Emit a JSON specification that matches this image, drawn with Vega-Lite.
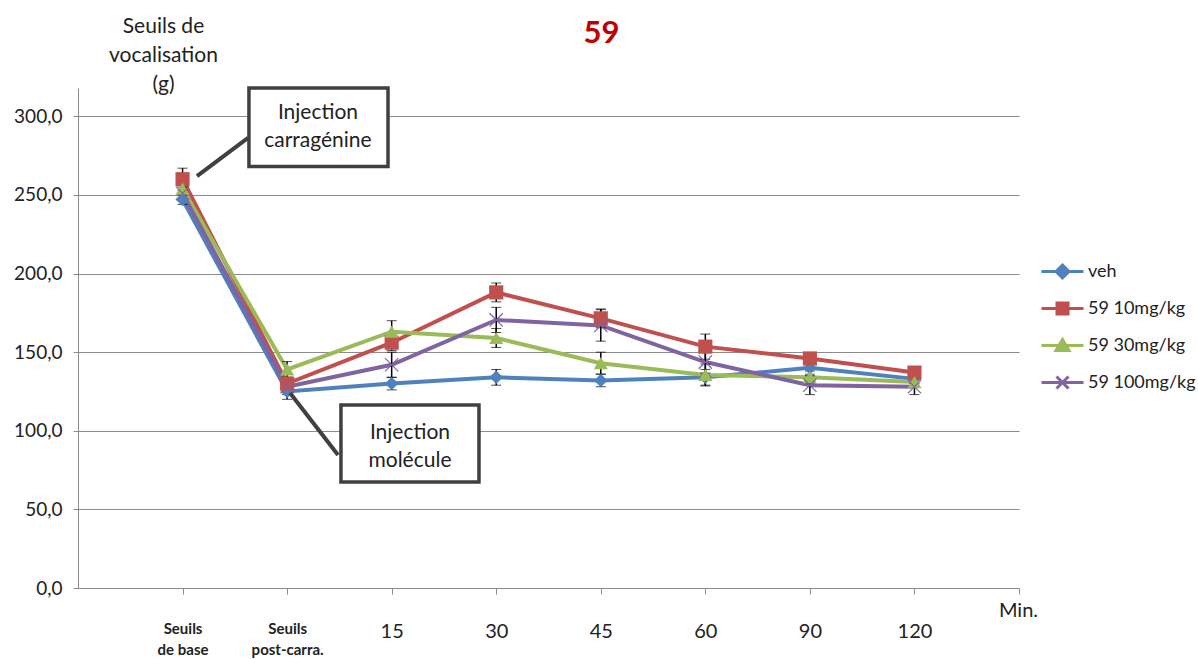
{
  "$schema": "https://vega.github.io/schema/vega-lite/v6.json",
  "width": 941,
  "height": 500,
  "autosize": "none",
  "padding": {"left": 78, "top": 88, "right": 179, "bottom": 71},
  "background": "white",
  "config": {"view": {"stroke": null}, "font": "Lato"},
  "title": {"text": "59", "color": "#C00000", "fontSize": 31, "fontWeight": "bold", "font": "Lato", "anchor": "middle", "dx": 53, "offset": -35},
  "datasets": {
    "d": [
      {"serie": "veh", "temps": "Seuils de base", "pos": 1, "v": 247, "err": 3},
      {"serie": "veh", "temps": "Seuils post-carra.", "pos": 2, "v": 125, "err": 5},
      {"serie": "veh", "temps": "15", "pos": 3, "v": 130, "err": 4},
      {"serie": "veh", "temps": "30", "pos": 4, "v": 134, "err": 5},
      {"serie": "veh", "temps": "45", "pos": 5, "v": 132, "err": 4},
      {"serie": "veh", "temps": "60", "pos": 6, "v": 134, "err": 5},
      {"serie": "veh", "temps": "90", "pos": 7, "v": 140, "err": 4},
      {"serie": "veh", "temps": "120", "pos": 8, "v": 133, "err": 3},
      {"serie": "59 10mg/kg", "temps": "Seuils de base", "pos": 1, "v": 260, "err": 7},
      {"serie": "59 10mg/kg", "temps": "Seuils post-carra.", "pos": 2, "v": 130, "err": 4},
      {"serie": "59 10mg/kg", "temps": "15", "pos": 3, "v": 156, "err": 5},
      {"serie": "59 10mg/kg", "temps": "30", "pos": 4, "v": 188, "err": 6},
      {"serie": "59 10mg/kg", "temps": "45", "pos": 5, "v": 171.5, "err": 6},
      {"serie": "59 10mg/kg", "temps": "60", "pos": 6, "v": 153.5, "err": 8},
      {"serie": "59 10mg/kg", "temps": "90", "pos": 7, "v": 146, "err": 3},
      {"serie": "59 10mg/kg", "temps": "120", "pos": 8, "v": 137, "err": 3},
      {"serie": "59 30mg/kg", "temps": "Seuils de base", "pos": 1, "v": 254, "err": 4},
      {"serie": "59 30mg/kg", "temps": "Seuils post-carra.", "pos": 2, "v": 139, "err": 5},
      {"serie": "59 30mg/kg", "temps": "15", "pos": 3, "v": 163, "err": 7},
      {"serie": "59 30mg/kg", "temps": "30", "pos": 4, "v": 159, "err": 6},
      {"serie": "59 30mg/kg", "temps": "45", "pos": 5, "v": 143, "err": 7},
      {"serie": "59 30mg/kg", "temps": "60", "pos": 6, "v": 135.5, "err": 7},
      {"serie": "59 30mg/kg", "temps": "90", "pos": 7, "v": 134, "err": 4},
      {"serie": "59 30mg/kg", "temps": "120", "pos": 8, "v": 131, "err": 3},
      {"serie": "59 100mg/kg", "temps": "Seuils de base", "pos": 1, "v": 251, "err": 4},
      {"serie": "59 100mg/kg", "temps": "Seuils post-carra.", "pos": 2, "v": 128, "err": 5},
      {"serie": "59 100mg/kg", "temps": "15", "pos": 3, "v": 142, "err": 8},
      {"serie": "59 100mg/kg", "temps": "30", "pos": 4, "v": 170.5, "err": 8},
      {"serie": "59 100mg/kg", "temps": "45", "pos": 5, "v": 167, "err": 10},
      {"serie": "59 100mg/kg", "temps": "60", "pos": 6, "v": 143.7, "err": 7},
      {"serie": "59 100mg/kg", "temps": "90", "pos": 7, "v": 129, "err": 6},
      {"serie": "59 100mg/kg", "temps": "120", "pos": 8, "v": 128, "err": 5}
    ]
  },
  "layer": [
    {
      "data": {"name": "d"},
      "mark": {"type": "line", "strokeWidth": 4},
      "encoding": {
        "x": {
          "field": "pos", "type": "quantitative", "title": "Min.",
          "scale": {"domain": [0, 9], "nice": false, "zero": false},
          "axis": {
            "values": [1, 2, 3, 4, 5, 6, 7, 8, 9],
            "labelExpr": "datum.value == 1 ? ['Seuils', 'de base'] : datum.value == 2 ? ['Seuils', 'post-carra.'] : datum.value == 3 ? '15' : datum.value == 4 ? '30' : datum.value == 5 ? '45' : datum.value == 6 ? '60' : datum.value == 7 ? '90' : datum.value == 8 ? '120' : ''",
            "grid": false,
            "domainColor": "#8c8c8c",
            "tickColor": "#8c8c8c",
            "tickSize": 6,
            "labelPadding": 27,
            "labelOverlap": false,
            "labelBound": false,
            "labelFlush": false,
            "labelColor": "#222222",
            "labelFontSize": {"condition": {"test": "datum.value <= 2", "value": 15}, "value": 20},
            "labelFontWeight": {"condition": {"test": "datum.value <= 2", "value": "bold"}, "value": "normal"},
            "labelLineHeight": 21,
            "titleX": 940,
            "titleY": 22,
            "titleBaseline": "middle",
            "titleAlign": "center",
            "titleFontSize": 20,
            "titleFontWeight": "normal",
            "titleColor": "#222222"
          }
        },
        "y": {
          "field": "v", "type": "quantitative", "title": ["Seuils de", "vocalisation", "(g)"],
          "scale": {"domain": [0, 318], "nice": false},
          "axis": {
            "values": [0, 50, 100, 150, 200, 250, 300],
            "labelExpr": "replace(format(datum.value, '.1f'), '.', ',')",
            "grid": true,
            "gridColor": "#8c8c8c",
            "domainColor": "#8c8c8c",
            "tickColor": "#8c8c8c",
            "tickSize": 5,
            "labelPadding": 11,
            "labelFontSize": 19,
            "labelColor": "#222222",
            "titleAngle": 0,
            "titleX": 85,
            "titleY": -73,
            "titleBaseline": "top",
            "titleAlign": "center",
            "titleFontSize": 21,
            "titleFontWeight": "normal",
            "titleLineHeight": 29,
            "titleColor": "#222222"
          }
        },
        "stroke": {
          "field": "serie", "type": "nominal",
          "scale": {"domain": ["veh", "59 10mg/kg", "59 30mg/kg", "59 100mg/kg"], "range": ["#4F81BD", "#C0504D", "#9BBB59", "#8064A2"]},
          "legend": {
            "orient": "none", "legendX": 973, "legendY": 172, "title": null, "padding": 0,
            "symbolSize": 400, "labelOffset": 14, "rowPadding": 13,
            "labelFontSize": 18, "labelColor": "#222222", "labelFont": "Lato",
            "encode": {
              "symbols": {
                "update": {
                  "shape": {"signal": "datum.value === 'veh' ? 'M-2.1,0H2.1M0,-0.65L0.65,0L0,0.65L-0.65,0Z' : datum.value === '59 10mg/kg' ? 'M-2.1,0H2.1M-0.55,-0.55H0.55V0.55H-0.55Z' : datum.value === '59 30mg/kg' ? 'M-2.1,0H2.1M0,-0.6L0.65,0.5H-0.65Z' : 'M-2.1,0H2.1M-0.6,-0.6L0.6,0.6M-0.6,0.6L0.6,-0.6'"},
                  "fill": {"scale": "stroke", "field": "value"},
                  "stroke": {"scale": "stroke", "field": "value"},
                  "strokeWidth": {"value": 3},
                  "opacity": {"value": 1}
                }
              }
            }
          }
        }
      }
    },
    {
      "data": {"name": "d"},
      "mark": {"type": "errorbar", "ticks": {"size": 10, "color": "black", "strokeWidth": 1.5}, "rule": {"color": "black", "strokeWidth": 1.5}},
      "encoding": {
        "x": {"field": "pos", "type": "quantitative", "title": "Min."},
        "y": {"field": "v", "type": "quantitative", "title": ["Seuils de", "vocalisation", "(g)"]},
        "yError": {"field": "err"}
      }
    },
    {
      "data": {"name": "d"},
      "transform": [{"filter": "datum.serie === 'veh'"}],
      "mark": {"type": "point", "filled": true, "size": 180, "opacity": 1, "shape": "diamond", "color": "#4F81BD"},
      "encoding": {"x": {"field": "pos", "type": "quantitative", "title": "Min."}, "y": {"field": "v", "type": "quantitative", "title": ["Seuils de", "vocalisation", "(g)"]}}
    },
    {
      "data": {"name": "d"},
      "transform": [{"filter": "datum.serie === '59 10mg/kg'"}],
      "mark": {"type": "point", "filled": true, "size": 200, "opacity": 1, "shape": "square", "color": "#C0504D"},
      "encoding": {"x": {"field": "pos", "type": "quantitative", "title": "Min."}, "y": {"field": "v", "type": "quantitative", "title": ["Seuils de", "vocalisation", "(g)"]}}
    },
    {
      "data": {"name": "d"},
      "transform": [{"filter": "datum.serie === '59 30mg/kg'"}],
      "mark": {"type": "point", "filled": true, "size": 200, "opacity": 1, "shape": "triangle-up", "color": "#9BBB59"},
      "encoding": {"x": {"field": "pos", "type": "quantitative", "title": "Min."}, "y": {"field": "v", "type": "quantitative", "title": ["Seuils de", "vocalisation", "(g)"]}}
    },
    {
      "data": {"name": "d"},
      "transform": [{"filter": "datum.serie === '59 100mg/kg'"}],
      "mark": {"type": "point", "filled": true, "size": 200, "opacity": 1, "shape": "M-1,-0.88L-0.88,-1L0,-0.12L0.88,-1L1,-0.88L0.12,0L1,0.88L0.88,1L0,0.12L-0.88,1L-1,0.88L-0.12,0Z", "color": "#8064A2"},
      "encoding": {"x": {"field": "pos", "type": "quantitative", "title": "Min."}, "y": {"field": "v", "type": "quantitative", "title": ["Seuils de", "vocalisation", "(g)"]}}
    },
    {
      "data": {"values": [{"a": 1}]},
      "mark": {"type": "rule", "color": "#404040", "strokeWidth": 4},
      "encoding": {"x": {"datum": 1.138}, "x2": {"datum": 1.626}, "y": {"datum": 262}, "y2": {"datum": 286.3}}
    },
    {
      "data": {"values": [{"a": 1}]},
      "mark": {"type": "rule", "color": "#404040", "strokeWidth": 4},
      "encoding": {"x": {"datum": 2.028}, "x2": {"datum": 2.487}, "y": {"datum": 124}, "y2": {"datum": 84.6}}
    },
    {
      "data": {"values": [{"a": 1}]},
      "mark": {"type": "rect", "fill": "white", "stroke": "#404040", "strokeWidth": 3.5},
      "encoding": {"x": {"datum": 1.635}, "x2": {"datum": 2.965}, "y": {"datum": 318}, "y2": {"datum": 268}}
    },
    {
      "data": {"values": [{"a": 1}]},
      "mark": {"type": "rect", "fill": "white", "stroke": "#404040", "strokeWidth": 3.5},
      "encoding": {"x": {"datum": 2.515}, "x2": {"datum": 3.835}, "y": {"datum": 116.4}, "y2": {"datum": 67.4}}
    },
    {
      "data": {"values": [{"a": 1}]},
      "mark": {"type": "text", "text": ["Injection", "carragénine"], "fontSize": 21, "lineHeight": 28, "font": "Lato", "color": "#222222", "baseline": "middle", "align": "center"},
      "encoding": {"x": {"datum": 2.295}, "y": {"datum": 302.2}}
    },
    {
      "data": {"values": [{"a": 1}]},
      "mark": {"type": "text", "text": ["Injection", "molécule"], "fontSize": 21, "lineHeight": 28, "font": "Lato", "color": "#222222", "baseline": "middle", "align": "center"},
      "encoding": {"x": {"datum": 3.175}, "y": {"datum": 98.6}}
    }
  ]
}
